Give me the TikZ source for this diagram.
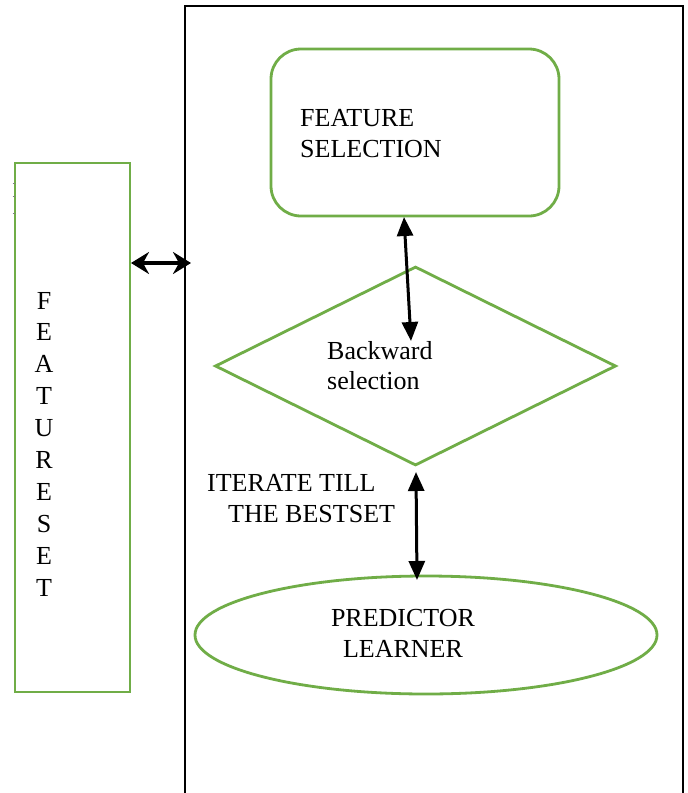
\documentclass[tikz,border=0pt]{standalone}
\usepackage{fontspec}
\setmainfont{Liberation Serif}
\usetikzlibrary{shapes.geometric,arrows.meta}
\definecolor{leafgreen}{RGB}{112,173,71}
\tikzset{
  greenshape/.style={draw=leafgreen, line width=2.8pt, inner sep=0pt},
  label26/.style={font=\fontsize{26}{31}\selectfont, inner sep=0pt},
  twoway/.style={line width=3pt, {Triangle[length=19pt,width=16pt]}-{Triangle[length=19pt,width=16pt]}},
  sideways/.style={line width=3.4pt, {Stealth[length=18pt,width=22pt,inset=6pt]}-{Stealth[length=18pt,width=22pt,inset=6pt]}}
}
\begin{document}
\begin{tikzpicture}[x=1pt,y=-1pt]
\useasboundingbox (0,0) rectangle (688,793);
\fill[white] (0,0) rectangle (688,793);

% outer frame, open at the bottom
\coordinate (frameBL) at (185,793);
\coordinate (frameTL) at (185,6);
\coordinate (frameTR) at (683,6);
\coordinate (frameBR) at (683,793);
\draw[line width=2.6pt] (frameBL) -- (frameTL) -- (frameTR) -- (frameBR);

% feature set column
\node[greenshape, rectangle, minimum width=115pt, minimum height=529pt] (featset) at (72.5,427.5) {};
\foreach \ch [count=\i from 0] in {F,E,A,T,U,R,E,S,E,T}
  \node[label26, anchor=base] (fs\i) at (44,309+31.9*\i) {\ch};

% small marks on the left edge
\foreach \yy in {183,196,213}
  \draw[gray, line width=0.8pt] (12.5,\yy) -- (15,\yy);

% feature selection box
\node[greenshape, rectangle, rounded corners=30pt, minimum width=288pt, minimum height=167pt] (featsel) at (415,132.5) {};
\node[label26, anchor=base west] (fsl1) at (300,126) {FEATURE};
\node[label26, anchor=base west] (fsl2) at (300,157) {SELECTION};

% backward selection decision
\node[greenshape, diamond, minimum width=401pt, minimum height=199pt] (backsel) at (415.5,366) {};
\node[label26, anchor=base west] (bsl1) at (327,359) {Backward};
\node[label26, anchor=base west] (bsl2) at (327,389.5) {selection};

% iteration note
\node[label26, anchor=base west] (itl1) at (207,491) {ITERATE TILL};
\node[label26, anchor=base west] (itl2) at (228,522) {THE BESTSET};

% predictor learner
\node[greenshape, ellipse, minimum width=462pt, minimum height=118pt] (learner) at (426,635) {};
\node[label26, anchor=base] (pll1) at (403,626) {PREDICTOR};
\node[label26, anchor=base] (pll2) at (403,657) {LEARNER};

% connectors
\coordinate (selbottom) at (404,217);
\coordinate (diaminner) at (411,341);
\draw[twoway] (selbottom) -- (diaminner);

\coordinate (diambottom) at (416,472);
\coordinate (ellipsetop) at (417,580);
\draw[twoway] (diambottom) -- (ellipsetop);

\coordinate (setright) at (131,263);
\coordinate (frameleft) at (191,263);
\draw[sideways] (setright) -- (frameleft);
\end{tikzpicture}
\end{document}
